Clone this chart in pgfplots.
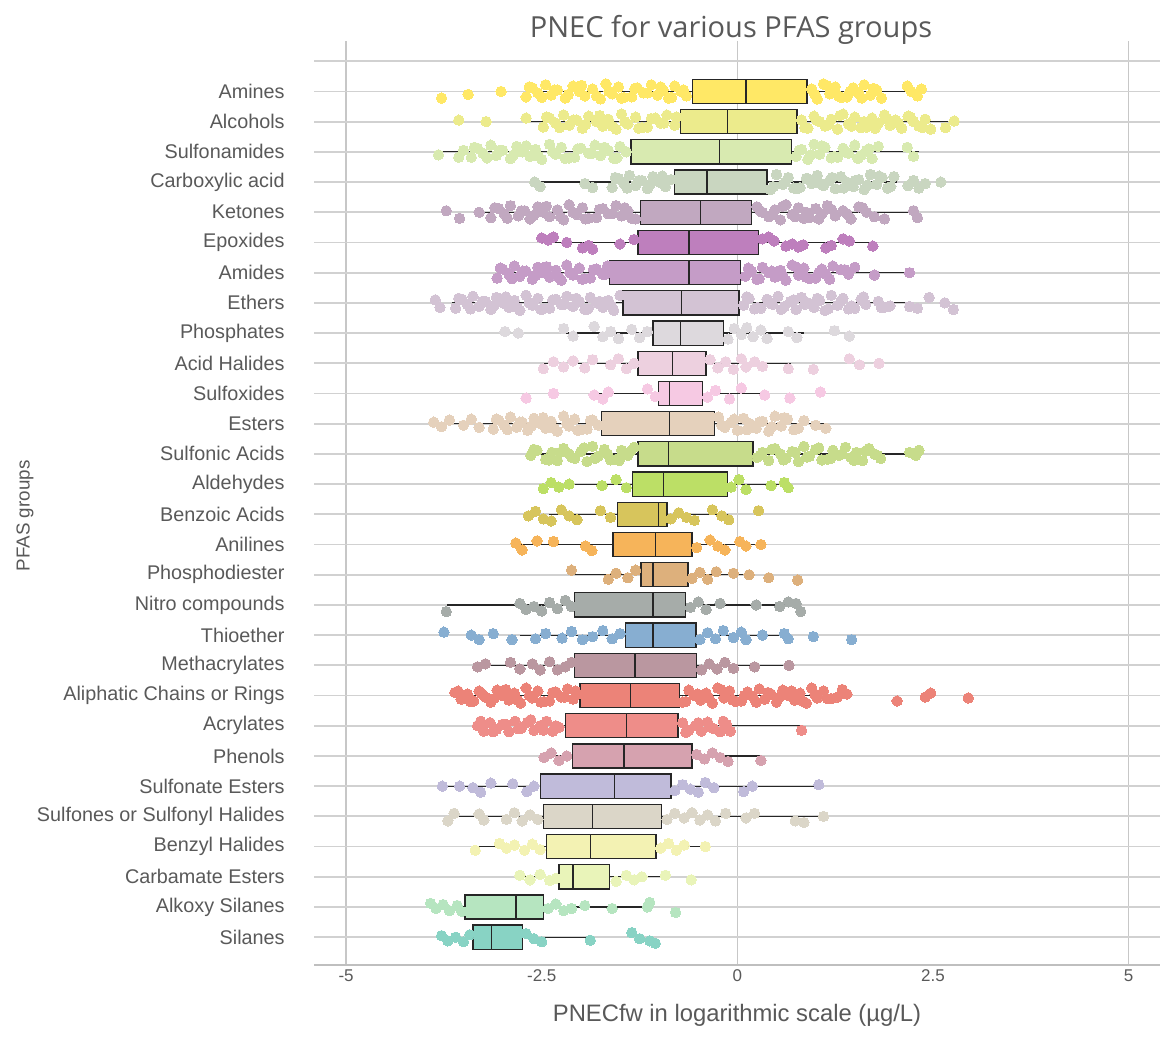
\documentclass[border=0pt]{standalone}
\usepackage{fontspec}
\setmainfont{Liberation Sans}
\newfontfamily\titlefont{Open Sans}
\usepackage{pgfplots}
\pgfplotsset{compat=1.18}
\usepgfplotslibrary{statistics}
\definecolor{txt}{HTML}{595959}
\definecolor{c1}{HTML}{FFE866}
\definecolor{c2}{HTML}{ECEB8C}
\definecolor{c3}{HTML}{D8EAB0}
\definecolor{c4}{HTML}{C9D6C0}
\definecolor{c5}{HTML}{C1A8C0}
\definecolor{c6}{HTML}{BE7FBD}
\definecolor{c7}{HTML}{C59CC7}
\definecolor{c8}{HTML}{D3C3D4}
\definecolor{c9}{HTML}{DDD9DD}
\definecolor{c10}{HTML}{EDD0DF}
\definecolor{c11}{HTML}{F6C9E3}
\definecolor{c12}{HTML}{E5D1BC}
\definecolor{c13}{HTML}{C7DC8B}
\definecolor{c14}{HTML}{BCDF66}
\definecolor{c15}{HTML}{D7C55C}
\definecolor{c16}{HTML}{F6B45A}
\definecolor{c17}{HTML}{DDB07C}
\definecolor{c18}{HTML}{A6ACA9}
\definecolor{c19}{HTML}{87AED1}
\definecolor{c20}{HTML}{BA97A0}
\definecolor{c21}{HTML}{EC8378}
\definecolor{c22}{HTML}{EE8D89}
\definecolor{c23}{HTML}{D6A2AF}
\definecolor{c24}{HTML}{C0BBDA}
\definecolor{c25}{HTML}{DBD6C8}
\definecolor{c26}{HTML}{F3F2B3}
\definecolor{c27}{HTML}{E9F4B9}
\definecolor{c28}{HTML}{B6E5C0}
\definecolor{c29}{HTML}{88D3C4}
\newcommand{\pts}[3]{\addplot[color=#2, only marks, mark=*, mark size=2.6pt, mark options={draw=#2, fill=#2, line width=0pt}] table[row sep=\\, x=x, y expr=-#1-\thisrow{j}] {x j\\ #3};}
\newcommand{\bx}[7]{\addplot[boxplot prepared={draw position=-#1, lower whisker=#3, lower quartile=#4, median=#5, upper quartile=#6, upper whisker=#7}, draw=black!85, fill=#2, line width=0.65pt] coordinates {};}
\begin{document}
\begin{tikzpicture}
\path[use as bounding box] (0,0) rectangle (581pt,518.5pt);
\node[anchor=base, text=txt, font=\titlefont\fontsize{14.5}{17}\selectfont] at (365.5pt,499.5pt) {PNEC for various PFAS groups};
\begin{axis}[
  at={(157pt,36pt)}, anchor=south west,
  width=423pt, height=462pt, scale only axis,
  xmin=-5.41, xmax=5.40, ymin=-29.92, ymax=0.67,
  axis x line*=bottom, axis y line*=left,
  x axis line style={draw=black!25, line width=0.8pt, -},
  y axis line style={draw=none},
  xtick={-5,-2.5,0,2.5,5}, xticklabels={-5,-2.5,0,2.5,5},
  minor xtick={-5,0,5}, xminorgrids=true,
  minor grid style={draw=black!22, line width=0.7pt},
  ytick={-29,-28,...,0},
  yticklabels={Silanes,Alkoxy Silanes,Carbamate Esters,Benzyl Halides,Sulfones or Sulfonyl Halides,Sulfonate Esters,Phenols,Acrylates,Aliphatic Chains or Rings,Methacrylates,Thioether,Nitro compounds,Phosphodiester,Anilines,Benzoic Acids,Aldehydes,Sulfonic Acids,Esters,Sulfoxides,Acid Halides,Phosphates,Ethers,Amides,Epoxides,Ketones,Carboxylic acid,Sulfonamides,Alcohols,Amines,{}},
  ymajorgrids=true,
  major grid style={draw=black!18, line width=0.9pt},
  major tick length=0pt, minor tick length=0pt,
  yticklabel style={inner sep=0pt, xshift=-14.5pt, anchor=east, text=txt, font=\fontsize{9.9}{12}\selectfont},
  xticklabel style={inner sep=0pt, yshift=-2pt, text=txt, font=\fontsize{8.5}{10}\selectfont},
  xlabel={PNECfw in logarithmic scale (µg/L)},
  xlabel style={at={(axis description cs:0.5,0)}, anchor=center, yshift=-25pt, text=txt, font=\fontsize{11.9}{14}\selectfont},
  ylabel={PFAS groups},
  ylabel style={at={(axis description cs:-0.3416,0.486)}, anchor=center, text=txt, font=\fontsize{9.4}{11}\selectfont},
  boxplot/draw direction=x,
  boxplot/box extend=0.8,
  boxplot/whisker extend=0,
  boxplot/every whisker/.style={line width=0.6pt},
]
% ---------- jittered points ----------
\pts{1}{c1}{-3.78 0.22\\ -3.44 0.10\\ -3.02 0.00\\ -2.70 0.18\\ -2.62 -0.12\\ -2.55 0.05\\ -2.45 -0.22\\ -2.38 0.12\\ -2.30 -0.05\\ -2.20 0.22\\ -2.10 -0.18\\ -2.02 0.00\\ -1.95 0.15\\ -1.85 -0.08\\ -1.75 0.25\\ -1.68 -0.25\\ -1.60 0.08\\ -1.52 -0.15\\ -1.45 0.20\\ -1.35 0.18\\ -1.28 -0.12\\ -1.20 0.05\\ -1.10 -0.22\\ -1.02 0.12\\ -0.95 -0.05\\ -0.88 0.22\\ -0.80 -0.18\\ -0.72 0.00\\ -0.65 0.15\\ 0.95 -0.08\\ 1.02 0.25\\ 1.10 -0.25\\ 1.18 0.08\\ 1.25 -0.15\\ 1.33 0.20\\ 1.40 0.18\\ 1.48 -0.12\\ 1.55 0.05\\ 1.62 -0.22\\ 1.70 0.12\\ 1.78 -0.05\\ 1.84 0.22\\ 2.17 -0.18\\ 2.22 0.00\\ 2.30 0.15\\ 2.35 -0.08\\}
\pts{1}{c1}{-2.66 -0.15\\ -2.50 0.20\\ -2.34 -0.05\\ -2.16 0.10\\ -1.99 -0.20\\ -1.80 0.15\\ -1.64 0.00\\ -1.48 0.22\\ -1.31 -0.10\\ -1.15 0.05\\ -0.98 -0.15\\ -0.84 0.20\\ -0.69 -0.05\\ 0.99 0.10\\ 1.14 -0.20\\ 1.29 0.15\\ 1.44 0.00\\ 1.59 0.22\\ 1.74 -0.10\\}
\pts{2}{c2}{-3.56 -0.05\\ -3.21 0.00\\ -2.70 -0.12\\ -2.48 0.18\\ -2.40 -0.12\\ -2.32 0.05\\ -2.22 -0.22\\ -2.15 0.12\\ -2.05 -0.05\\ -1.98 0.22\\ -1.90 -0.18\\ -1.80 0.00\\ -1.72 0.15\\ -1.65 -0.08\\ -1.55 0.25\\ -1.48 -0.25\\ -1.40 0.08\\ -1.30 -0.15\\ -1.22 0.20\\ -1.15 0.18\\ -1.05 -0.12\\ -0.98 0.05\\ -0.90 -0.22\\ -0.80 0.12\\ 0.82 -0.05\\ 0.90 0.22\\ 0.98 -0.18\\ 1.05 0.00\\ 1.12 0.15\\ 1.20 -0.08\\ 1.28 0.25\\ 1.35 -0.25\\ 1.42 0.08\\ 1.50 -0.15\\ 1.58 0.20\\ 1.65 0.18\\ 1.72 -0.12\\ 1.80 0.05\\ 1.88 -0.22\\ 1.95 0.12\\ 2.02 -0.05\\ 2.10 0.22\\ 2.18 -0.18\\ 2.25 0.00\\ 2.32 0.15\\ 2.40 -0.08\\ 2.47 0.25\\ 2.66 0.20\\ 2.77 -0.02\\}
\pts{2}{c2}{-2.44 -0.15\\ -2.27 0.20\\ -2.10 -0.05\\ -1.94 0.10\\ -1.76 -0.20\\ -1.60 0.15\\ -1.44 0.00\\ -1.26 0.22\\ -1.10 -0.10\\ -0.94 0.05\\ -0.78 -0.15\\ 0.86 0.20\\ 1.01 -0.05\\ 1.16 0.10\\ 1.31 -0.20\\ 1.46 0.15\\ 1.62 0.00\\ 1.76 0.22\\ 1.91 -0.10\\ 2.06 0.05\\ 2.21 -0.15\\ 2.36 0.20\\}
\pts{3}{c3}{-3.82 0.10\\ -3.56 0.18\\ -3.50 -0.05\\ -3.40 0.18\\ -3.32 -0.12\\ -3.25 0.05\\ -3.15 -0.22\\ -3.08 0.12\\ -3.00 -0.05\\ -2.90 0.22\\ -2.82 -0.18\\ -2.75 0.00\\ -2.65 0.15\\ -2.58 -0.08\\ -2.50 0.25\\ -2.40 -0.25\\ -2.32 0.08\\ -2.25 -0.15\\ -2.15 0.20\\ -2.08 0.18\\ -2.00 -0.12\\ -1.90 0.05\\ -1.82 -0.22\\ -1.75 0.12\\ -1.65 -0.05\\ -1.58 0.22\\ -1.50 -0.18\\ -1.42 0.00\\ 0.75 0.15\\ 0.82 -0.08\\ 0.90 0.25\\ 0.98 -0.25\\ 1.05 0.08\\ 1.12 -0.15\\ 1.20 0.20\\ 1.28 0.18\\ 1.35 -0.12\\ 1.42 0.05\\ 1.50 -0.22\\ 1.58 0.12\\ 1.65 -0.05\\ 1.72 0.22\\ 1.80 -0.18\\ 2.17 -0.15\\ 2.25 0.15\\}
\pts{3}{c3}{-3.36 -0.15\\ -3.20 0.20\\ -3.04 -0.05\\ -2.86 0.10\\ -2.70 -0.20\\ -2.54 0.15\\ -2.36 0.00\\ -2.20 0.22\\ -2.04 -0.10\\ -1.86 0.05\\ -1.70 -0.15\\ -1.54 0.20\\ 0.79 -0.05\\ 0.94 0.10\\ 1.08 -0.20\\ 1.24 0.15\\ 1.39 0.00\\ 1.54 0.22\\ 1.68 -0.10\\}
\pts{4}{c4}{-2.59 0.00\\ -2.52 0.15\\ -1.95 0.05\\ -1.85 0.18\\ -1.60 0.18\\ -1.52 -0.12\\ -1.45 0.05\\ -1.38 -0.22\\ -1.30 0.12\\ -1.22 -0.05\\ -1.15 0.22\\ -1.08 -0.18\\ -1.00 0.00\\ -0.92 0.15\\ -0.85 -0.08\\ 0.42 0.25\\ 0.50 -0.25\\ 0.58 0.08\\ 0.65 -0.15\\ 0.72 0.20\\ 0.80 0.18\\ 0.88 -0.12\\ 0.95 0.05\\ 1.02 -0.22\\ 1.10 0.12\\ 1.18 -0.05\\ 1.25 0.22\\ 1.32 -0.18\\ 1.40 0.00\\ 1.48 0.15\\ 1.55 -0.08\\ 1.62 0.25\\ 1.70 -0.25\\ 1.78 0.08\\ 1.85 -0.15\\ 1.92 0.20\\ 2.00 -0.18\\ 2.18 0.12\\ 2.25 -0.05\\ 2.32 0.20\\ 2.40 0.05\\ 2.60 0.00\\}
\pts{4}{c4}{-1.56 -0.15\\ -1.41 0.20\\ -1.26 -0.05\\ -1.12 0.10\\ -0.96 -0.20\\ 0.46 0.15\\ 0.61 0.00\\ 0.76 0.22\\ 0.91 -0.10\\ 1.06 0.05\\ 1.21 -0.15\\ 1.36 0.20\\ 1.51 -0.05\\ 1.66 0.10\\ 1.81 -0.20\\ 1.96 0.15\\}
\pts{5}{c5}{-3.72 -0.05\\ -3.55 0.20\\ -3.30 0.00\\ -3.15 0.18\\ -3.05 -0.12\\ -2.98 0.05\\ -2.90 -0.22\\ -2.80 0.12\\ -2.72 -0.05\\ -2.65 0.22\\ -2.55 -0.18\\ -2.48 0.00\\ -2.40 0.15\\ -2.30 -0.08\\ -2.22 0.25\\ -2.15 -0.25\\ -2.05 0.08\\ -1.98 -0.15\\ -1.90 0.20\\ -1.80 0.18\\ -1.72 -0.12\\ -1.65 0.05\\ -1.55 -0.22\\ -1.48 0.12\\ -1.40 -0.05\\ -1.30 0.22\\ 0.25 -0.18\\ 0.32 0.00\\ 0.40 0.15\\ 0.48 -0.08\\ 0.55 0.25\\ 0.62 -0.25\\ 0.70 0.08\\ 0.78 -0.15\\ 0.85 0.20\\ 0.92 0.18\\ 1.00 -0.12\\ 1.08 0.05\\ 1.15 -0.22\\ 1.25 0.12\\ 1.35 -0.05\\ 1.45 0.22\\ 1.55 -0.18\\ 1.65 0.00\\ 1.75 0.15\\ 1.88 0.22\\ 2.25 -0.05\\ 2.30 0.18\\}
\pts{5}{c5}{-3.10 -0.15\\ -2.94 0.20\\ -2.76 -0.05\\ -2.60 0.10\\ -2.44 -0.20\\ -2.26 0.15\\ -2.10 0.00\\ -1.94 0.22\\ -1.76 -0.10\\ -1.60 0.05\\ -1.44 -0.15\\ -1.35 0.20\\ 0.29 -0.05\\ 0.44 0.10\\ 0.58 -0.20\\ 0.74 0.15\\ 0.88 0.00\\ 1.04 0.22\\ 1.20 -0.10\\ 1.40 0.05\\ 1.60 -0.15\\}
\pts{6}{c6}{-2.50 -0.15\\ -2.42 -0.08\\ -2.35 -0.18\\ -2.18 0.00\\ -1.98 0.18\\ -1.90 0.10\\ -1.85 0.22\\ -1.50 0.05\\ -1.32 -0.10\\ 0.32 -0.12\\ 0.40 -0.18\\ 0.47 -0.05\\ 0.62 0.12\\ 0.70 0.05\\ 0.78 0.15\\ 0.84 0.08\\ 1.13 0.18\\ 1.20 0.10\\ 1.35 -0.12\\ 1.43 -0.05\\ 1.73 0.12\\}
\pts{7}{c7}{-3.07 0.18\\ -3.00 -0.12\\ -2.92 0.05\\ -2.85 -0.22\\ -2.78 0.12\\ -2.70 -0.05\\ -2.62 0.22\\ -2.55 -0.18\\ -2.48 0.00\\ -2.40 0.15\\ -2.32 -0.08\\ -2.25 0.25\\ -2.18 -0.25\\ -2.10 0.08\\ -2.02 -0.15\\ -1.95 0.20\\ -1.88 0.18\\ -1.80 -0.12\\ -1.72 0.05\\ -1.66 -0.22\\ 0.10 0.12\\ 0.18 -0.05\\ 0.25 0.22\\ 0.32 -0.18\\ 0.40 0.00\\ 0.48 0.15\\ 0.55 -0.08\\ 0.62 0.25\\ 0.70 -0.25\\ 0.78 0.08\\ 0.85 -0.15\\ 0.92 0.20\\ 1.00 0.18\\ 1.08 -0.12\\ 1.13 0.05\\ 1.22 -0.22\\ 1.32 -0.10\\ 1.42 0.05\\ 1.50 -0.18\\ 1.75 0.08\\ 2.20 0.00\\}
\pts{7}{c7}{-3.03 -0.15\\ -2.88 0.20\\ -2.74 -0.05\\ -2.58 0.10\\ -2.44 -0.20\\ -2.28 0.15\\ -2.14 0.00\\ -1.98 0.22\\ -1.84 -0.10\\ -1.69 0.05\\ 0.14 -0.15\\ 0.28 0.20\\ 0.44 -0.05\\ 0.58 0.10\\ 0.74 -0.20\\ 0.88 0.15\\ 1.04 0.00\\ 1.18 0.22\\ 1.37 -0.10\\}
\pts{8}{c8}{-3.86 -0.10\\ -3.80 0.15\\ -3.60 0.18\\ -3.52 -0.12\\ -3.45 0.05\\ -3.38 -0.22\\ -3.30 0.12\\ -3.22 -0.05\\ -3.15 0.22\\ -3.08 -0.18\\ -3.00 0.00\\ -2.92 0.15\\ -2.85 -0.08\\ -2.78 0.25\\ -2.70 -0.25\\ -2.62 0.08\\ -2.55 -0.15\\ -2.48 0.20\\ -2.40 0.18\\ -2.32 -0.12\\ -2.25 0.05\\ -2.18 -0.22\\ -2.10 0.12\\ -2.02 -0.05\\ -1.95 0.22\\ -1.88 -0.18\\ -1.80 0.00\\ -1.72 0.15\\ -1.65 -0.08\\ -1.58 0.25\\ -1.50 -0.25\\ 0.08 0.08\\ 0.15 -0.15\\ 0.22 0.20\\ 0.30 0.18\\ 0.38 -0.12\\ 0.45 0.05\\ 0.52 -0.22\\ 0.60 0.12\\ 0.68 -0.05\\ 0.75 0.22\\ 0.82 -0.18\\ 0.90 0.00\\ 0.98 0.15\\ 1.05 -0.08\\ 1.12 0.25\\ 1.20 -0.25\\ 1.28 0.08\\ 1.35 -0.15\\ 1.42 0.20\\ 1.50 0.18\\ 1.58 -0.12\\ 1.64 0.05\\ 1.80 -0.05\\ 1.88 0.15\\ 1.95 0.10\\ 2.20 0.12\\ 2.30 0.18\\ 2.45 -0.18\\ 2.65 0.00\\ 2.76 0.22\\}
\pts{8}{c8}{-3.56 -0.15\\ -3.41 0.20\\ -3.26 -0.05\\ -3.11 0.10\\ -2.96 -0.20\\ -2.81 0.15\\ -2.66 0.00\\ -2.51 0.22\\ -2.36 -0.10\\ -2.21 0.05\\ -2.06 -0.15\\ -1.91 0.20\\ -1.76 -0.05\\ -1.61 0.10\\ 0.12 -0.20\\ 0.26 0.15\\ 0.42 0.00\\ 0.56 0.22\\ 0.72 -0.10\\ 0.86 0.05\\ 1.02 -0.15\\ 1.16 0.20\\ 1.32 -0.05\\ 1.46 0.10\\ 1.61 -0.20\\ 1.84 0.15\\}
\pts{9}{c9}{-2.97 -0.05\\ -2.80 0.00\\ -2.22 -0.15\\ -2.10 0.10\\ -1.83 -0.22\\ -1.72 0.12\\ -1.62 -0.05\\ -1.52 0.18\\ -1.35 -0.12\\ -1.25 0.15\\ -1.15 -0.05\\ -0.12 0.20\\ -0.04 -0.15\\ 0.05 0.05\\ 0.12 -0.18\\ 0.20 0.12\\ 0.30 -0.10\\ 0.38 0.18\\ 0.65 -0.05\\ 0.76 0.15\\ 1.24 -0.08\\ 1.43 0.10\\}
\pts{10}{c10}{-2.48 0.18\\ -2.35 -0.05\\ -2.22 0.12\\ -2.10 -0.08\\ -1.95 0.15\\ -1.85 -0.12\\ -1.62 0.05\\ -1.52 -0.15\\ -1.42 0.18\\ -1.32 0.00\\ -0.35 -0.12\\ -0.25 0.15\\ -0.15 -0.05\\ -0.05 0.20\\ 0.05 -0.15\\ 0.11 0.12\\ 0.22 -0.05\\ 0.32 0.10\\ 0.65 0.18\\ 0.97 0.20\\ 1.43 -0.15\\ 1.56 0.05\\ 1.81 0.00\\}
\pts{11}{c11}{-2.70 0.15\\ -2.35 0.00\\ -1.83 0.05\\ -1.72 0.18\\ -1.65 -0.05\\ -1.15 -0.15\\ -1.05 0.10\\ -0.38 0.12\\ -0.28 -0.10\\ -0.10 0.18\\ 0.05 -0.18\\ 0.35 0.05\\ 0.67 0.15\\ 1.06 -0.05\\}
\pts{12}{c12}{-3.88 -0.05\\ -3.78 0.10\\ -3.68 -0.12\\ -3.50 0.05\\ -3.40 -0.15\\ -3.30 0.12\\ -3.12 0.18\\ -3.05 -0.12\\ -2.98 0.05\\ -2.90 -0.22\\ -2.82 0.12\\ -2.75 -0.05\\ -2.68 0.22\\ -2.60 -0.18\\ -2.52 0.00\\ -2.45 0.15\\ -2.38 -0.08\\ -2.30 0.25\\ -2.22 -0.25\\ -2.15 0.08\\ -2.08 -0.15\\ -2.00 0.20\\ -1.92 0.18\\ -1.85 -0.12\\ -1.78 0.05\\ -0.24 -0.22\\ -0.16 0.12\\ -0.08 -0.05\\ 0.00 0.22\\ 0.08 -0.18\\ 0.16 0.00\\ 0.24 0.15\\ 0.32 -0.08\\ 0.40 0.25\\ 0.48 -0.25\\ 0.56 0.08\\ 0.64 -0.15\\ 0.72 0.20\\ 0.85 -0.10\\ 1.00 0.05\\ 1.13 0.15\\}
\pts{12}{c12}{-3.08 -0.15\\ -2.94 0.20\\ -2.78 -0.05\\ -2.64 0.10\\ -2.48 -0.20\\ -2.34 0.15\\ -2.18 0.00\\ -2.04 0.22\\ -1.88 -0.10\\ -0.20 0.05\\ -0.04 -0.15\\ 0.12 0.20\\ 0.28 -0.05\\ 0.44 0.10\\ 0.60 -0.20\\ 0.78 0.15\\}
\pts{13}{c13}{-2.64 0.05\\ -2.56 -0.12\\ -2.45 0.18\\ -2.37 -0.05\\ -2.30 0.22\\ -2.22 -0.18\\ -2.15 0.00\\ -2.08 0.15\\ -2.00 -0.08\\ -1.92 0.25\\ -1.85 -0.25\\ -1.78 0.08\\ -1.70 -0.15\\ -1.62 0.20\\ -1.55 0.18\\ -1.48 -0.12\\ -1.40 0.05\\ -1.32 -0.22\\ 0.25 0.12\\ 0.32 -0.05\\ 0.40 0.22\\ 0.48 -0.18\\ 0.55 0.00\\ 0.62 0.15\\ 0.70 -0.08\\ 0.78 0.25\\ 0.85 -0.25\\ 0.92 0.08\\ 1.00 -0.15\\ 1.08 0.20\\ 1.15 0.18\\ 1.22 -0.12\\ 1.30 0.05\\ 1.38 -0.22\\ 1.45 0.12\\ 1.52 -0.05\\ 1.60 0.22\\ 1.68 -0.18\\ 1.75 0.00\\ 1.83 0.15\\ 2.20 -0.05\\ 2.28 0.05\\ 2.32 -0.12\\}
\pts{13}{c13}{-2.60 -0.15\\ -2.41 0.20\\ -2.26 -0.05\\ -2.12 0.10\\ -1.96 -0.20\\ -1.82 0.15\\ -1.66 0.00\\ -1.51 0.22\\ -1.36 -0.10\\ 0.29 0.05\\ 0.44 -0.15\\ 0.59 0.20\\ 0.74 -0.05\\ 0.89 0.10\\ 1.04 -0.20\\ 1.19 0.15\\ 1.34 0.00\\ 1.49 0.22\\ 1.64 -0.10\\ 1.79 0.05\\}
\pts{14}{c14}{-2.48 0.15\\ -2.38 -0.05\\ -2.28 0.10\\ -2.15 0.00\\ -1.73 0.05\\ -1.55 -0.15\\ -1.42 0.12\\ -0.08 0.10\\ 0.02 -0.15\\ 0.11 0.18\\ 0.43 0.05\\ 0.60 -0.05\\ 0.65 0.12\\}
\pts{15}{c15}{-2.67 0.05\\ -2.58 -0.10\\ -2.48 0.15\\ -2.38 0.22\\ -2.25 -0.15\\ -2.15 0.05\\ -2.05 0.18\\ -1.75 -0.12\\ -1.62 0.10\\ -0.85 0.15\\ -0.75 -0.05\\ -0.65 0.10\\ -0.55 0.20\\ -0.32 -0.15\\ -0.20 0.05\\ -0.11 0.18\\ 0.27 -0.12\\}
\pts{16}{c16}{-2.83 -0.05\\ -2.75 0.18\\ -2.56 -0.12\\ -2.35 -0.10\\ -1.94 0.05\\ -1.86 0.20\\ -0.52 0.10\\ -0.35 -0.15\\ -0.25 0.05\\ -0.16 0.18\\ 0.03 -0.10\\ 0.11 0.05\\ 0.30 0.00\\}
\pts{17}{c17}{-2.12 -0.15\\ -1.65 0.15\\ -1.55 -0.05\\ -1.40 0.10\\ -1.30 -0.15\\ -0.58 0.12\\ -0.48 -0.08\\ -0.38 0.15\\ -0.27 -0.10\\ -0.05 -0.05\\ 0.15 0.00\\ 0.40 0.10\\ 0.77 0.18\\}
\pts{18}{c18}{-3.72 0.22\\ -2.78 -0.05\\ -2.70 0.15\\ -2.60 0.05\\ -2.50 0.20\\ -2.40 -0.08\\ -2.30 0.12\\ -2.20 -0.15\\ -2.12 0.05\\ -0.60 0.08\\ -0.50 -0.10\\ -0.40 0.15\\ -0.22 -0.05\\ 0.24 0.00\\ 0.54 0.05\\ 0.65 -0.10\\ 0.75 -0.05\\ 0.81 0.22\\}
\pts{19}{c19}{-3.75 -0.10\\ -3.40 0.00\\ -3.30 0.15\\ -3.12 -0.05\\ -2.88 0.15\\ -2.58 0.12\\ -2.45 -0.05\\ -2.24 0.10\\ -2.12 -0.12\\ -1.98 0.15\\ -1.85 0.05\\ -1.72 -0.15\\ -1.60 0.12\\ -1.50 -0.05\\ -0.48 0.15\\ -0.38 -0.08\\ -0.28 0.12\\ -0.18 -0.15\\ -0.05 0.08\\ 0.05 -0.10\\ 0.11 0.15\\ 0.32 0.00\\ 0.60 -0.05\\ 0.65 0.12\\ 0.97 0.05\\ 1.46 0.15\\}
\pts{20}{c20}{-3.32 0.05\\ -3.22 -0.05\\ -2.90 -0.10\\ -2.78 0.12\\ -2.62 -0.05\\ -2.52 0.15\\ -2.40 -0.12\\ -2.30 0.15\\ -2.20 0.05\\ -2.12 -0.10\\ -0.46 0.15\\ -0.36 -0.05\\ -0.26 0.12\\ -0.16 -0.10\\ -0.05 0.10\\ 0.22 0.05\\ 0.66 0.00\\}
\pts{21}{c21}{-3.61 -0.10\\ -3.53 0.12\\ -3.45 -0.05\\ -3.37 0.18\\ -3.30 -0.15\\ -3.22 0.05\\ -3.15 0.22\\ -3.07 -0.18\\ -3.00 0.00\\ -2.92 0.15\\ -2.85 -0.08\\ -2.77 0.25\\ -2.70 -0.25\\ -2.62 0.08\\ -2.55 -0.15\\ -2.47 0.20\\ -2.40 0.18\\ -2.32 -0.12\\ -2.25 0.05\\ -2.17 -0.22\\ -2.10 0.12\\ -2.04 -0.05\\ -0.70 0.22\\ -0.62 -0.18\\ -0.55 0.00\\ -0.47 0.15\\ -0.40 -0.08\\ -0.32 0.25\\ -0.25 -0.25\\ -0.17 0.08\\ -0.10 -0.15\\ -0.02 0.20\\ 0.05 0.18\\ 0.13 -0.12\\ 0.20 0.05\\ 0.28 -0.22\\ 0.35 0.12\\ 0.43 -0.05\\ 0.50 0.22\\ 0.58 -0.18\\ 0.65 0.00\\ 0.73 0.15\\ 0.80 -0.08\\ 0.88 0.25\\ 0.95 -0.25\\ 1.02 0.08\\ 1.10 -0.15\\ 1.20 0.10\\ 1.28 0.05\\ 1.40 -0.05\\ 2.04 0.18\\ 2.40 0.05\\ 2.47 -0.08\\ 2.95 0.08\\}
\pts{21}{c21}{-3.57 -0.15\\ -3.41 0.20\\ -3.26 -0.05\\ -3.11 0.10\\ -2.96 -0.20\\ -2.81 0.15\\ -2.66 0.00\\ -2.51 0.22\\ -2.36 -0.10\\ -2.21 0.05\\ -2.07 -0.15\\ -0.66 0.20\\ -0.51 -0.05\\ -0.36 0.10\\ -0.21 -0.20\\ -0.06 0.15\\ 0.09 0.00\\ 0.24 0.22\\ 0.39 -0.10\\ 0.54 0.05\\ 0.69 -0.15\\ 0.84 0.20\\ 0.99 -0.05\\ 1.15 0.10\\ 1.34 -0.20\\}
\pts{22}{c22}{-3.32 0.00\\ -3.24 0.18\\ -3.16 -0.10\\ -3.08 0.12\\ -3.00 -0.05\\ -2.92 0.20\\ -2.84 -0.15\\ -2.76 0.08\\ -2.68 -0.12\\ -2.60 0.15\\ -2.52 0.00\\ -2.44 -0.15\\ -2.36 0.18\\ -2.28 0.05\\ -0.70 -0.10\\ -0.62 0.15\\ -0.54 0.00\\ -0.46 0.18\\ -0.38 -0.12\\ -0.30 0.10\\ -0.22 0.20\\ -0.14 -0.05\\ -0.09 0.18\\ 0.82 0.15\\}
\pts{22}{c22}{-3.28 -0.15\\ -3.12 0.20\\ -2.96 -0.05\\ -2.80 0.10\\ -2.64 -0.20\\ -2.48 0.15\\ -2.32 0.00\\ -0.66 0.22\\ -0.50 -0.10\\ -0.34 0.05\\ -0.18 -0.15\\}
\pts{23}{c23}{-2.47 0.05\\ -2.38 -0.10\\ -2.28 0.15\\ -2.18 0.00\\ -0.52 -0.05\\ -0.42 0.10\\ -0.32 -0.10\\ -0.22 0.05\\ -0.12 0.18\\ 0.30 0.15\\}
\pts{24}{c24}{-3.77 0.00\\ -3.55 0.00\\ -3.38 0.05\\ -3.28 0.20\\ -3.15 -0.10\\ -2.87 -0.08\\ -2.69 0.18\\ -2.60 0.00\\ -0.80 0.15\\ -0.70 -0.05\\ -0.60 0.10\\ -0.50 0.20\\ -0.41 -0.12\\ -0.30 0.05\\ 0.08 0.18\\ 0.19 0.00\\ 1.04 -0.05\\}
\pts{25}{c25}{-3.70 0.15\\ -3.62 -0.10\\ -3.30 -0.08\\ -3.24 0.12\\ -2.95 0.10\\ -2.85 -0.12\\ -2.75 0.15\\ -2.65 -0.05\\ -2.55 0.10\\ -0.90 0.10\\ -0.80 -0.10\\ -0.68 0.05\\ -0.58 -0.12\\ -0.48 0.12\\ -0.38 -0.05\\ -0.28 0.15\\ -0.15 -0.10\\ 0.11 0.05\\ 0.22 -0.10\\ 0.74 0.15\\ 0.85 0.20\\ 1.10 0.00\\}
\pts{26}{c26}{-3.35 0.12\\ -3.04 -0.10\\ -2.95 0.05\\ -2.85 -0.05\\ -2.72 0.12\\ -2.62 -0.08\\ -2.52 0.10\\ -0.98 0.05\\ -0.88 -0.10\\ -0.78 0.12\\ -0.68 -0.05\\ -0.41 0.00\\}
\pts{27}{c27}{-2.78 -0.05\\ -2.65 0.10\\ -2.52 -0.08\\ -2.40 0.12\\ -2.32 0.05\\ -1.55 0.15\\ -1.42 -0.05\\ -1.32 0.10\\ -1.22 0.00\\ -0.92 -0.05\\ -0.59 0.10\\}
\pts{28}{c28}{-3.92 -0.12\\ -3.85 0.05\\ -3.76 -0.08\\ -3.68 0.12\\ -3.58 -0.05\\ -3.52 0.15\\ -2.42 0.05\\ -2.32 -0.10\\ -2.22 0.12\\ -2.12 0.05\\ -1.95 -0.05\\ -1.60 0.05\\ -1.15 0.00\\ -1.12 -0.15\\ -0.79 0.18\\}
\pts{29}{c29}{-3.78 -0.05\\ -3.70 0.12\\ -3.60 0.00\\ -3.50 0.15\\ -3.42 -0.08\\ -2.70 -0.12\\ -2.60 0.05\\ -2.50 0.15\\ -1.88 0.10\\ -1.35 -0.15\\ -1.25 0.05\\ -1.12 0.12\\ -1.05 0.20\\}
% ---------- boxes ----------
\bx{1}{c1}{-2.67}{-0.57}{0.11}{0.89}{2.32}
\bx{2}{c2}{-2.69}{-0.73}{-0.13}{0.76}{2.77}
\bx{3}{c3}{-3.82}{-1.36}{-0.23}{0.69}{2.32}
\bx{4}{c4}{-2.52}{-0.80}{-0.39}{0.38}{2.04}
\bx{5}{c5}{-3.29}{-1.24}{-0.47}{0.18}{2.25}
\bx{6}{c6}{-2.50}{-1.27}{-0.62}{0.27}{1.73}
\bx{7}{c7}{-3.01}{-1.63}{-0.62}{0.04}{2.21}
\bx{8}{c8}{-3.65}{-1.46}{-0.71}{0.02}{2.20}
\bx{9}{c9}{-2.22}{-1.08}{-0.73}{-0.18}{0.85}
\bx{10}{c10}{-2.48}{-1.27}{-0.83}{-0.40}{0.69}
\bx{11}{c11}{-1.81}{-1.01}{-0.87}{-0.45}{0.38}
\bx{12}{c12}{-3.85}{-1.74}{-0.87}{-0.29}{1.13}
\bx{13}{c13}{-2.59}{-1.27}{-0.88}{0.20}{2.32}
\bx{14}{c14}{-2.46}{-1.34}{-0.94}{-0.13}{0.65}
\bx{15}{c15}{-2.41}{-1.53}{-1.01}{-0.90}{-0.11}
\bx{16}{c16}{-2.80}{-1.59}{-1.05}{-0.58}{0.31}
\bx{17}{c17}{-2.12}{-1.23}{-1.08}{-0.63}{0.15}
\bx{18}{c18}{-3.71}{-2.08}{-1.08}{-0.66}{0.81}
\bx{19}{c19}{-2.78}{-1.43}{-1.08}{-0.53}{0.69}
\bx{20}{c20}{-3.32}{-2.08}{-1.31}{-0.52}{0.66}
\bx{21}{c21}{-3.55}{-2.01}{-1.37}{-0.74}{1.05}
\bx{22}{c22}{-3.31}{-2.20}{-1.42}{-0.76}{0.84}
\bx{23}{c23}{-2.42}{-2.11}{-1.45}{-0.58}{0.30}
\bx{24}{c24}{-3.77}{-2.52}{-1.57}{-0.85}{1.04}
\bx{25}{c25}{-3.65}{-2.48}{-1.85}{-0.97}{1.10}
\bx{26}{c26}{-3.32}{-2.44}{-1.88}{-1.04}{-0.38}
\bx{27}{c27}{-2.72}{-2.28}{-2.10}{-1.63}{-0.88}
\bx{28}{c28}{-3.88}{-3.48}{-2.83}{-2.48}{-1.09}
\bx{29}{c29}{-3.72}{-3.38}{-3.14}{-2.75}{-1.88}
\end{axis}
\end{tikzpicture}
\end{document}
